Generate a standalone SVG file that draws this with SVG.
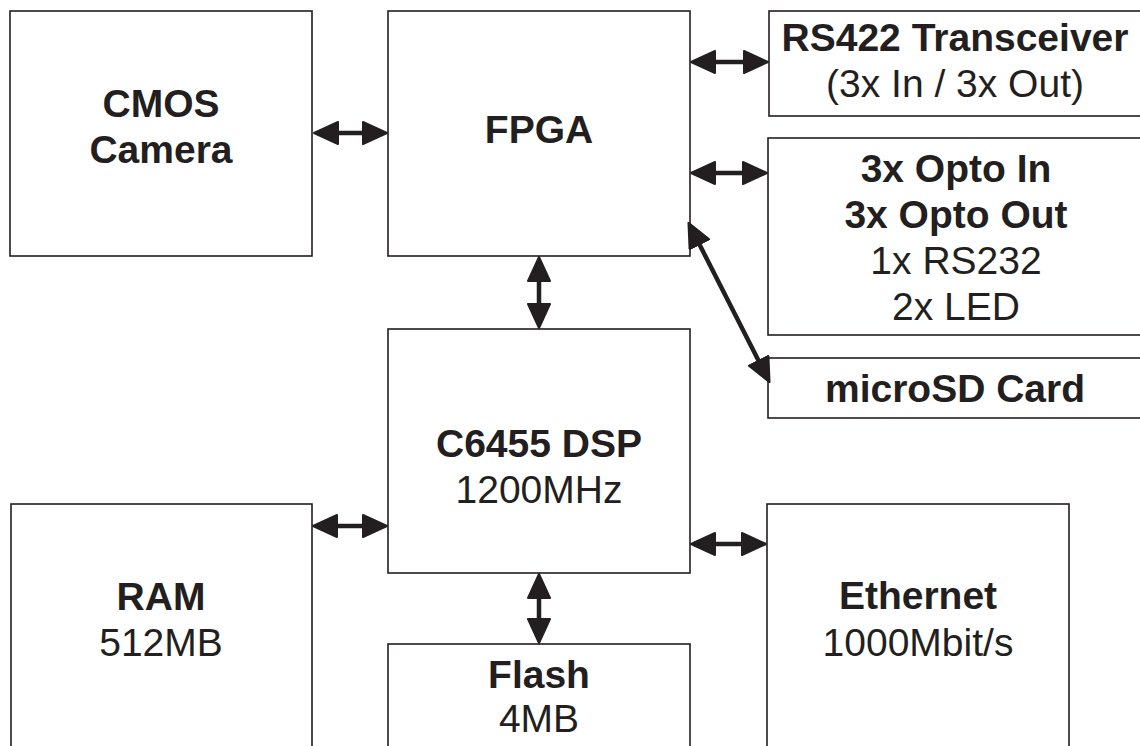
<svg xmlns="http://www.w3.org/2000/svg" width="1140" height="746" viewBox="0 0 1140 746">
<style>
.box{fill:#fff;stroke:#231f20;stroke-width:1.6}
.b{font-family:"Liberation Sans",Arial,sans-serif;font-size:39px;font-weight:bold;fill:#231f20;text-anchor:middle}
.r{font-family:"Liberation Sans",Arial,sans-serif;font-size:39px;fill:#231f20;text-anchor:middle}
.c{fill:none;stroke:#231f20;stroke-width:4.5;marker-start:url(#ah);marker-end:url(#ah)}
</style>
<defs>
<marker id="ah" viewBox="0 0 26 24" markerWidth="26" markerHeight="24" markerUnits="userSpaceOnUse" refX="6" refY="12" orient="auto-start-reverse">
<path d="M1,1 L25,12 L1,23 z" fill="#231f20" stroke="#231f20" stroke-width="2" stroke-linejoin="round"/>
</marker>
</defs>
<rect width="1140" height="746" fill="#fff"/>
<g id="cmos"><rect class="box" x="10" y="11" width="302" height="245"/><text class="b" x="161" y="117">CMOS</text><text class="b" x="161" y="163">Camera</text></g>
<g id="fpga"><rect class="box" x="388" y="11" width="302" height="245"/><text class="b" x="539" y="143">FPGA</text></g>
<g id="rs422"><rect class="box" x="769" y="11" width="380" height="105"/><text class="b" x="955" y="51">RS422 Transceiver</text><text class="r" x="955" y="97">(3x In / 3x Out)</text></g>
<g id="opto"><rect class="box" x="768" y="138" width="380" height="197"/><text class="b" x="956" y="182">3x Opto In</text><text class="b" x="956" y="228">3x Opto Out</text><text class="r" x="956" y="274">1x RS232</text><text class="r" x="956" y="320">2x LED</text></g>
<g id="microsd"><rect class="box" x="768" y="358" width="380" height="60"/><text class="b" x="955" y="402">microSD Card</text></g>
<g id="dsp"><rect class="box" x="388" y="329" width="302" height="244"/><text class="b" x="539" y="457">C6455 DSP</text><text class="r" x="539" y="503">1200MHz</text></g>
<g id="ram"><rect class="box" x="11" y="504" width="301" height="260"/><text class="b" x="161" y="610">RAM</text><text class="r" x="161" y="656">512MB</text></g>
<g id="flash"><rect class="box" x="388" y="644" width="302" height="120"/><text class="b" x="539" y="688">Flash</text><text class="r" x="539" y="732">4MB</text></g>
<g id="ethernet"><rect class="box" x="767" y="504" width="302" height="260"/><text class="b" x="918" y="609">Ethernet</text><text class="r" x="918" y="656">1000Mbit/s</text></g>
<g id="connectors">
<path class="c" d="M333,133 H368"/>
<path class="c" d="M710,62 H749"/>
<path class="c" d="M710,173 H748"/>
<path class="c" d="M539,276 V309"/>
<path class="c" d="M697.1,239.8 L760.9,365.2"/>
<path class="c" d="M332,526 H368"/>
<path class="c" d="M710,544 H747"/>
<path class="c" d="M539,593 V624"/>
</g>
</svg>
